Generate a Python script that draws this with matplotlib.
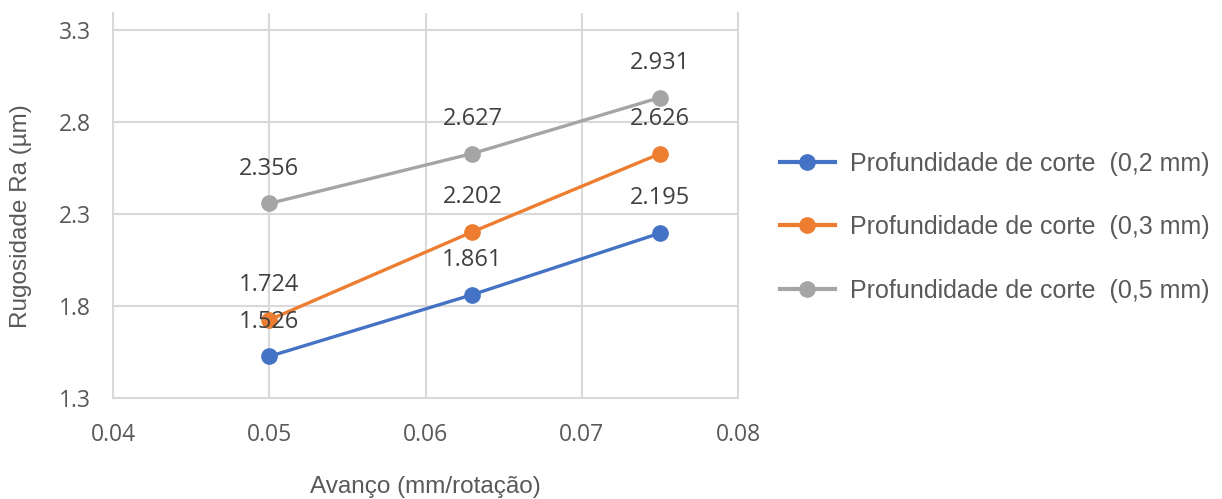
import matplotlib
matplotlib.use("Agg")
import matplotlib.pyplot as plt

# Feed rate (mm/rotation) and measured roughness Ra for each cutting depth
avanco = [0.05, 0.063, 0.075]
ra_02 = [1.526, 1.861, 2.195]
ra_03 = [1.724, 2.202, 2.626]
ra_05 = [2.356, 2.627, 2.931]

series_labels = [
    "Profundidade de corte  (0,2 mm)",
    "Profundidade de corte  (0,3 mm)",
    "Profundidade de corte  (0,5 mm)",
]
series_colors = ["#4472C4", "#ED7D31", "#A5A5A5"]

x_ticks = [0.04, 0.05, 0.06, 0.07, 0.08]
y_ticks = [1.3, 1.8, 2.3, 2.8, 3.3]

grid_color = "#D9D9D9"
text_color = "#595959"
label_color = "#404040"

fig = plt.figure(figsize=(12.22, 4.99), dpi=100)
ax = fig.add_axes([0.0925, 0.2024, 0.5115, 0.7716])

for values, color, name in zip([ra_02, ra_03, ra_05], series_colors, series_labels):
    ax.plot(avanco, values, color=color, lw=2.4, marker="o", markersize=11,
            label=name, zorder=3)
    for xv, yv in zip(avanco, values):
        ax.annotate(f"{yv:.3f}", (xv, yv), xytext=(0, 25), textcoords="offset points",
                    ha="center", va="center", fontsize=17, color=label_color,
                    family="Open Sans", zorder=4)

ax.set_xlim(0.04, 0.08)
ax.set_ylim(1.3, 3.39)
ax.set_xticks(x_ticks)
ax.set_yticks(y_ticks)
ax.set_xticklabels([f"{v:g}" for v in x_ticks])
ax.set_yticklabels([f"{v:.1f}" for v in y_ticks])
ax.tick_params(length=0, labelsize=16.5, labelcolor=text_color)
ax.tick_params(axis="x", pad=18)
ax.tick_params(axis="y", pad=16)
for lab in ax.get_xticklabels() + ax.get_yticklabels():
    lab.set_family("Open Sans")

ax.grid(True, color=grid_color, lw=1.5, zorder=0)
ax.set_axisbelow(True)
for side in ["left", "right", "bottom"]:
    ax.spines[side].set_color(grid_color)
    ax.spines[side].set_linewidth(1.5)
ax.spines["top"].set_visible(False)

ax.set_xlabel("Avanço (mm/rotação)", fontsize=17.5, color=text_color,
              family="Liberation Sans")
ax.xaxis.set_label_coords(0.5, -0.232)
ax.xaxis.label.set_va("center")
ax.set_ylabel("Rugosidade Ra (µm)", fontsize=17.5, color=text_color,
              family="Liberation Sans")
ax.yaxis.set_label_coords(-0.147, 0.473)
ax.yaxis.label.set_va("center")

leg = fig.legend(loc="center left", bbox_to_anchor=(0.630, 0.545), frameon=False,
                 borderaxespad=0, handlelength=2.2, labelspacing=1.58,
                 handletextpad=0.6, prop={"family": "Liberation Sans", "size": 18})
for t in leg.get_texts():
    t.set_color(text_color)
for h in leg.legend_handles:
    h.set_linewidth(3)

fig.savefig("out.png", dpi=100)
